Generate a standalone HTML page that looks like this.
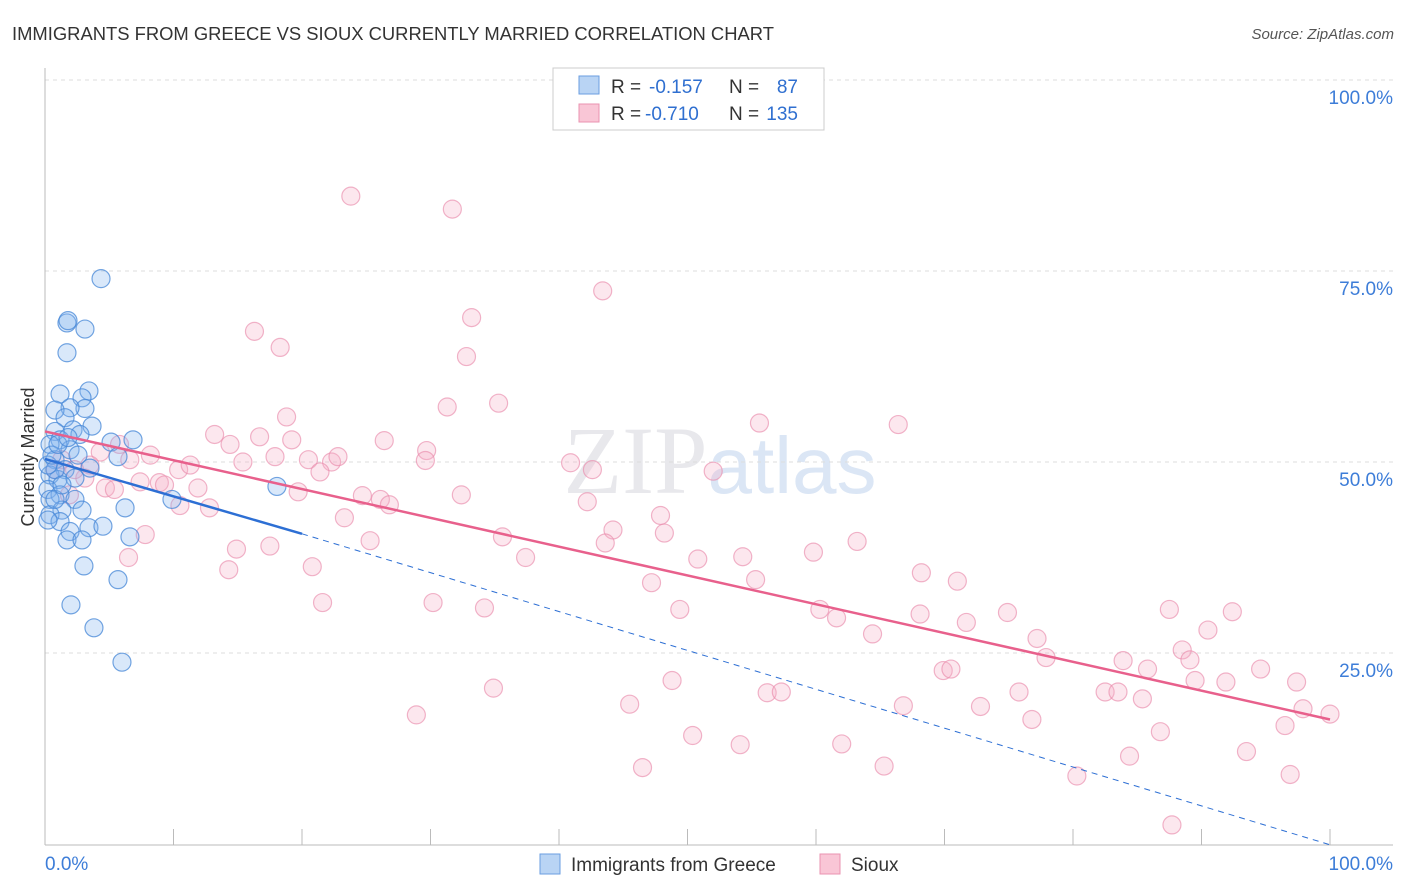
<!DOCTYPE html>
<html><head><meta charset="utf-8"><style>
body{margin:0;background:#fff;font-family:"Liberation Sans",sans-serif;}
#wrap{position:relative;width:1406px;height:892px;overflow:hidden;}
</style></head><body>
<div id="wrap">
<svg id="chart" width="1406" height="892" style="position:absolute;left:0;top:0">
<text x="12" y="40" font-size="18.4" fill="#333">IMMIGRANTS FROM GREECE VS SIOUX CURRENTLY MARRIED CORRELATION CHART</text>
<text x="1394" y="39" font-size="15" fill="#555" font-style="italic" text-anchor="end">Source: ZipAtlas.com</text>
<text x="720" y="493" font-size="96" fill="#e8e8ec" text-anchor="middle" font-family="Liberation Serif,serif">ZIP<tspan fill="#dbe6f5" font-family="Liberation Sans,sans-serif" font-size="80">atlas</tspan></text>
<text transform="translate(34,457) rotate(-90)" font-size="18" fill="#333" text-anchor="middle">Currently Married</text>
<g id="grid"></g><g id="axes"></g><g id="pts"></g><g id="lines"></g>
<g>
<rect x="553" y="68" width="271" height="62" fill="#fff" stroke="#ccc"/>
<rect x="579" y="76" width="20" height="18" fill="#b9d4f4" stroke="#6a9ee0"/>
<rect x="579" y="104" width="20" height="18" fill="#f9c6d6" stroke="#ea93b0"/>
<text x="611" y="93" font-size="19" fill="#333">R =</text>
<text x="649" y="93" font-size="19" fill="#2f6fd0">-0.157</text>
<text x="729" y="93" font-size="19" fill="#333">N =</text>
<text x="798" y="93" font-size="19" fill="#2f6fd0" text-anchor="end">87</text>
<text x="611" y="120" font-size="19" fill="#333">R =</text>
<text x="645" y="120" font-size="19" fill="#2f6fd0">-0.710</text>
<text x="729" y="120" font-size="19" fill="#333">N =</text>
<text x="798" y="120" font-size="19" fill="#2f6fd0" text-anchor="end">135</text>
</g>
<g>
<rect x="540" y="854" width="20" height="20" fill="#b9d4f4" stroke="#6a9ee0"/>
<text x="571" y="871" font-size="19" fill="#333">Immigrants from Greece</text>
<rect x="820" y="854" width="20" height="20" fill="#f9c6d6" stroke="#ea93b0"/>
<text x="851" y="871" font-size="19" fill="#333">Sioux</text>
</g>
</svg>
</div>
<script>
const yTicks=[25,50,75,100];
const yTickLabels=["25.0%","50.0%","75.0%","100.0%"];
const xTicks=[0,10,20,30,40,50,60,70,80,90,100];
const blueX=[4.36,1.71,3.11,1.79,1.71,3.42,1.17,2.88,3.11,1.95,0.78,1.56,0.78,2.18,3.66,6.85,5.14,5.68,1.17,2.72,0.39,1.95,0.78,2.57,1.56,0.39,1.01,2.33,3.5,0.23,1.17,2.33,0.39,9.88,1.32,0.39,2.88,6.23,1.17,3.42,1.95,4.51,1.71,2.88,6.61,3.03,5.68,2.02,3.81,5.99,18.05,0.78,0.23,0.54,1.01,1.79,0.23,0.78,1.32];
const blueY=[74,68.2,67.4,68.5,64.3,59.3,58.9,58.4,57,57.1,56.8,55.8,54,54.2,54.7,52.9,52.6,50.7,52.9,53.6,52.3,51.6,50.3,50.9,49,48.3,47.7,47.9,49.2,46.4,45.7,45.1,45.1,45.1,43.7,43.1,43.7,44,42.2,41.4,40.9,41.6,39.8,39.8,40.2,36.4,34.6,31.3,28.3,23.8,46.8,49,49.6,50.9,52.3,53.2,42.4,45.1,47];
const pinkX=[23.8,31.7,43.4,16.3,18.3,33.2,32.8,31.3,35.3,18.8,55.6,66.4,26.4,29.7,13.2,14.4,16.7,19.2,5.8,8.2,4.3,10.4,11.3,15.4,17.9,20.5,22.3,22.8,21.4,29.6,40.9,42.6,52,6.6,3.5,1.3,3.1,7.4,8.9,9.3,11.9,4.7,19.7,24.7,26.1,26.8,32.4,42.2,10.5,12.8,23.3,47.9,44.2,48.2,35.6,25.3,43.6,7.8,14.9,17.5,37.4,50.8,54.3,59.8,63.2,6.5,14.3,20.8,47.2,55.3,68.2,71,30.2,34.2,21.6,49.4,60.3,61.6,68.1,74.9,87.5,92.4,71.7,90.5,64.4,77.2,77.9,83.9,88.5,89.1,94.6,69.9,70.5,85.8,48.8,34.9,89.5,91.9,97.4,56.2,57.3,75.8,82.5,83.5,85.4,45.5,66.8,72.8,97.9,100,28.9,76.8,96.5,50.4,54.1,62,86.8,84.4,93.5,46.5,65.3,80.3,96.9,87.7,0.8,1.9,5.4,2.3];
const pinkY=[84.8,83.1,72.4,67.1,65,68.9,63.8,57.2,57.7,55.9,55.1,54.9,52.8,51.5,53.6,52.3,53.3,52.9,52.3,50.9,51.3,49,49.6,50,50.7,50.3,50,50.7,48.7,50.2,49.9,49,48.8,50.3,49.6,50.3,47.9,47.4,47.3,47,46.6,46.6,46.1,45.6,45.1,44.4,45.7,44.8,44.3,44,42.7,43,41.1,40.7,40.2,39.7,39.4,40.5,38.6,39,37.5,37.3,37.6,38.2,39.6,37.5,35.9,36.3,34.2,34.6,35.5,34.4,31.6,30.9,31.6,30.7,30.7,29.6,30.1,30.3,30.7,30.4,29,28,27.5,26.9,24.4,24,25.4,24.1,22.9,22.7,22.9,22.9,21.4,20.4,21.4,21.2,21.2,19.8,19.9,19.9,19.9,19.9,19,18.3,18.1,18,17.7,17,16.9,16.3,15.5,14.2,13,13.1,14.7,11.5,12.1,10,10.2,8.9,9.1,2.5,49,45.7,46.4,49];
const blueTrend=[50.4,40.6,-0.1];
const pinkTrend=[54.0,16.3];
const NS="http://www.w3.org/2000/svg";
const X0=45,X1=1330,Y0=844,YPX=7.64;
function xs(v){return X0+(X1-X0)*v/100;}
function ys(v){return Y0-v*YPX;}
function mk(tag,attrs,parent){const e=document.createElementNS(NS,tag);for(const k in attrs)e.setAttribute(k,attrs[k]);parent.appendChild(e);return e;}
const grid=document.getElementById('grid'),axes=document.getElementById('axes'),pts=document.getElementById('pts'),lines=document.getElementById('lines');
yTicks.forEach((t,i)=>{
 const l=mk('line',{x1:45,x2:1393,y1:ys(t),y2:ys(t),stroke:'#ddd','stroke-dasharray':'4,4'},grid);
 
 
 const tx=mk('text',{x:1393,y:ys(t)+24,'font-size':19,fill:'#3d7dd8','text-anchor':'end'},axes);
 tx.textContent=yTickLabels[i];
 
 
});
const ax=mk('line',{x1:45,x2:45,y1:68,y2:845,stroke:'#bbb'},axes);


const bx=mk('line',{x1:45,x2:1393,y1:845,y2:845,stroke:'#bbb'},axes);


xTicks.forEach(t=>{
 const l=mk('line',{x1:xs(t),x2:xs(t),y1:829,y2:845,stroke:'#bbb'},axes);
 
 
});
const xl0=mk('text',{x:45,y:870,'font-size':19,fill:'#3d7dd8'},axes);
xl0.textContent='0.0%';


const xl1=mk('text',{x:1393,y:870,'font-size':19,fill:'#3d7dd8','text-anchor':'end'},axes);
xl1.textContent='100.0%';


pinkX.forEach((v,i)=>{
 const c=mk('circle',{cx:xs(v),cy:ys(pinkY[i]),r:9,fill:'rgba(246,175,198,0.3)',stroke:'rgba(234,140,172,0.65)','stroke-width':1.2},pts);
 
 
});
blueX.forEach((v,i)=>{
 const c=mk('circle',{cx:xs(v),cy:ys(blueY[i]),r:9,fill:'rgba(130,178,238,0.3)',stroke:'rgba(70,135,215,0.75)','stroke-width':1.2},pts);
 
 
});
const bl=mk('line',{x1:xs(0),y1:ys(blueTrend[0]),x2:xs(20),y2:ys(blueTrend[1]),stroke:'#2d6fd4','stroke-width':2.5},lines);


const bd=mk('line',{x1:xs(20),y1:ys(blueTrend[1]),x2:xs(100),y2:ys(blueTrend[2]),stroke:'#2d6fd4','stroke-width':1,'stroke-dasharray':'6,5'},lines);


const pl=mk('line',{x1:xs(0),y1:ys(pinkTrend[0]),x2:xs(100),y2:ys(pinkTrend[1]),stroke:'#e8608c','stroke-width':2.5},lines);


</script>
</body></html>
